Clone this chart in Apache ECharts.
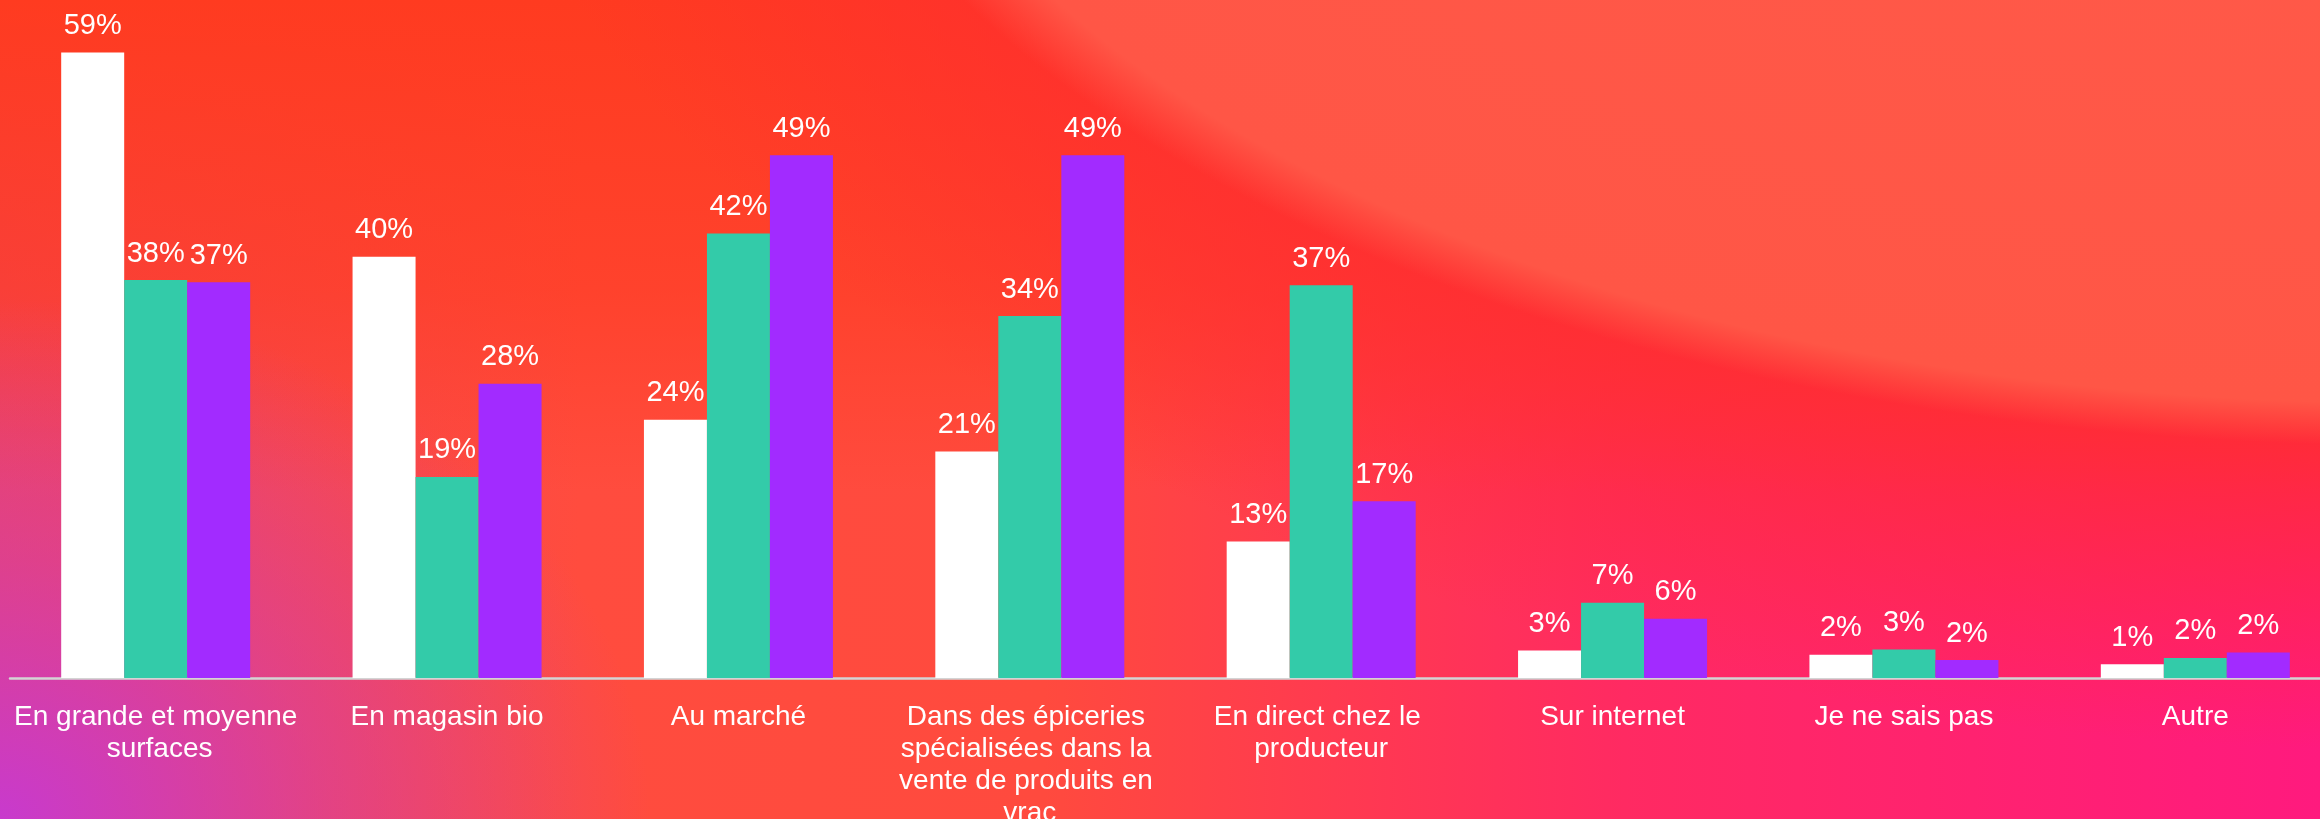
<!DOCTYPE html>
<html>
<head>
<meta charset="utf-8">
<script src="https://cdn.jsdelivr.net/npm/echarts@6/dist/echarts.min.js"></script>
<style>
  html, body { margin: 0; padding: 0; width: 2320px; height: 819px; overflow: hidden; }
  #bg {
    position: absolute; left: 0; top: 0; width: 2320px; height: 819px;
    background:
      radial-gradient(1632px 845px at 2400px -400px, #ff5b4a 0%, #ff5646 95%, rgba(255,80,64,0) 100%),
      radial-gradient(1950px 1150px at 2400px -400px, rgba(255,45,48,0.9) 72%, rgba(255,45,48,0) 100%),
      radial-gradient(650px 520px at 0px 819px, rgba(200,58,205,1) 0%, rgba(205,60,190,0.5) 50%, rgba(210,60,180,0) 100%),
      linear-gradient(to bottom, #ff3b20 0%, rgba(255,59,32,0.6) 35%, rgba(255,59,32,0) 60%),
      linear-gradient(to right, #f0455a 0%, #ff4c3e 25%, #ff4a3e 45%, #ff2a62 70%, #ff1a7e 100%);
  }
  #chart { position: absolute; left: 0; top: 0; width: 2320px; height: 819px; }
</style>
</head>
<body>
<div id="bg"></div>
<div id="chart"></div>
<script>
const categories = [
  "En grande et moyenne surfaces",
  "En magasin bio",
  "Au marché",
  "Dans des épiceries spécialisées dans la vente de produits en vrac",
  "En direct chez le producteur",
  "Sur internet",
  "Je ne sais pas",
  "Autre"
];
const seriesWhite  = [59.1, 39.8, 24.4, 21.4, 12.9, 2.6, 2.2, 1.3];
const seriesGreen  = [37.6, 19.0, 42.0, 34.2, 37.1, 7.1, 2.7, 1.9];
const seriesPurple = [37.4, 27.8, 49.4, 49.4, 16.7, 5.6, 1.7, 2.4];

const FONT = "'Liberation Sans', Arial, sans-serif";
const chart = echarts.init(document.getElementById('chart'), null, { renderer: 'canvas' });

function mkSeries(name, data, color) {
  return {
    name: name,
    type: 'bar',
    data: data,
    barWidth: 63,
    barGap: '0%',
    itemStyle: { color: color },
    label: {
      show: true,
      position: 'top',
      distance: 12,
      color: '#ffffff',
      fontSize: 29,
      fontFamily: FONT,
      formatter: function (p) { return Math.round(p.value) + '%'; }
    }
  };
}

chart.setOption({
  backgroundColor: 'transparent',
  animation: false,
  grid: { left: 10, right: -21, top: 43, bottom: 141, containLabel: false, outerBoundsMode: 'none' },
  xAxis: {
    type: 'category',
    data: categories,
    axisLine: { show: true, lineStyle: { color: '#d4d4d4', width: 2.5 } },
    axisTick: { show: false },
    axisLabel: {
      color: '#ffffff',
      fontSize: 28,
      fontFamily: FONT,
      lineHeight: 32,
      margin: 23,
      width: 290,
      overflow: 'break',
      interval: 0,
      align: 'center'
    }
  },
  yAxis: {
    type: 'value',
    min: 0,
    max: 60,
    show: false,
    splitLine: { show: false }
  },
  series: [
    mkSeries('Série 1', seriesWhite, '#ffffff'),
    mkSeries('Série 2', seriesGreen, '#33cba9'),
    mkSeries('Série 3', seriesPurple, '#a22bff')
  ]
});
</script>
</body>
</html>
